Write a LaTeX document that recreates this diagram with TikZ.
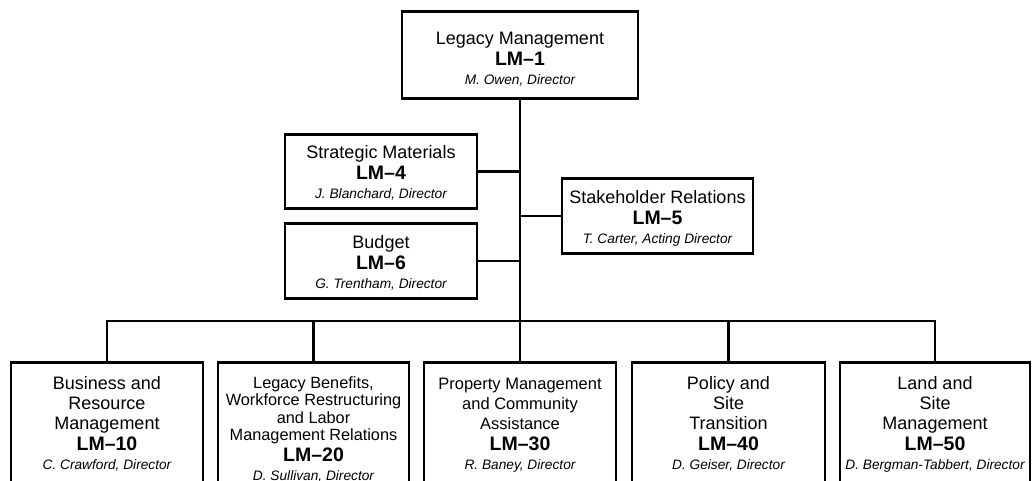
\documentclass[tikz,border=0pt]{standalone}
\usepackage{fontspec}
\setmainfont{Liberation Sans}
\newcommand{\unitbox}[7][\fontsize{18}{20}\selectfont]{%
\parbox[c][#3][t]{#2}{\centering
{#1\rule{0pt}{#4}#5\par}%
{\fontsize{19.5}{21}\selectfont\bfseries #6\par}%
{\fontsize{13.7}{19}\selectfont\itshape #7\par}}}
\begin{document}
\begin{tikzpicture}[x=1pt,y=-1pt,
unit/.style={draw,line width=2.8pt,inner sep=0pt,anchor=north},
link/.style={draw,line width=2.8pt}]
\path[use as bounding box](0,0)rectangle(1032,481);
\path[clip](0,0)rectangle(1032,481);
\node[unit](lm1)at(520,10){\unitbox{236pt}{87pt}{33pt}%
{Legacy Management}{LM–1}{M. Owen, Director}};
\node[unit](lm4)at(381,133){\unitbox{192pt}{74pt}{24pt}%
{Strategic Materials}{LM–4}{J. Blanchard, Director}};
\node[unit](lm6)at(381,222){\unitbox{192pt}{75pt}{25pt}%
{Budget}{LM–6}{G. Trentham, Director}};
\node[unit](lm5)at(657.5,177){\unitbox{191pt}{75pt}{25pt}%
{Stakeholder Relations}{LM–5}{T. Carter, Acting Director}};
\node[unit](lm10)at(107,361){\unitbox{192pt}{140pt}{27pt}%
{Business and\\Resource\\Management}{LM–10}{C. Crawford, Director}};
\node[unit](lm20)at(313.5,361){\unitbox[\fontsize{16.3}{17.5}\selectfont]{191pt}{140pt}{26pt}%
{Legacy Benefits,\\Workforce Restructuring\\and Labor\\Management Relations}{LM–20}{D. Sullivan, Director}};
\node[unit](lm30)at(520,361){\unitbox[\fontsize{16.5}{20}\selectfont]{192pt}{140pt}{27pt}%
{Property Management\\and Community\\Assistance}{LM–30}{R. Baney, Director}};
\node[unit](lm40)at(728.5,361){\unitbox{193pt}{140pt}{27pt}%
{Policy and\\Site\\Transition}{LM–40}{D. Geiser, Director}};
\node[unit](lm50)at(935,361){\unitbox{190pt}{140pt}{27pt}%
{Land and\\Site\\Management}{LM–50}{D. Bergman-Tabbert, Director}};
% trunk and bar
\coordinate(bar)at(520,321);
\path[link](lm1.south)--(lm30.north);
\path[link](lm10.north)|-(bar)-|(lm50.north);
\path[link](lm20.north)--(lm20.north|-bar);
\path[link](lm40.north)--(lm40.north|-bar);
% staff offices
\path[link](lm4.east)--(lm4.east-|lm1.south);
\path[link](lm6.east)--(lm6.east-|lm1.south);
\path[link](lm5.west)--(lm5.west-|lm1.south);
\end{tikzpicture}
\end{document}
